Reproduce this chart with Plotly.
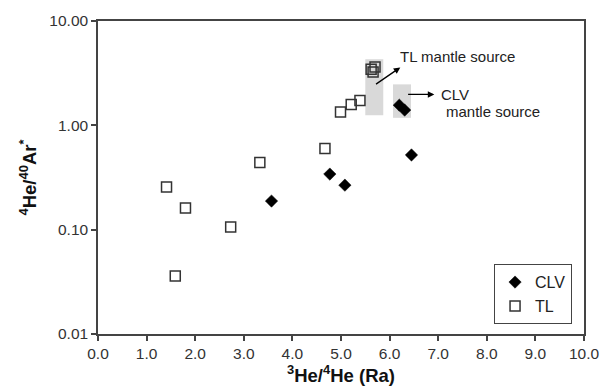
import plotly.graph_objects as go

# Data
clv_x = [3.57, 4.77, 5.08, 6.20, 6.31, 6.45]
clv_y = [0.188, 0.341, 0.267, 1.56, 1.40, 0.52]

tl_x = [1.41, 1.80, 2.73, 1.59, 3.33, 4.67, 4.99, 5.21, 5.39, 5.62, 5.70, 5.66]
tl_y = [0.256, 0.161, 0.106, 0.036, 0.44, 0.60, 1.34, 1.58, 1.73, 3.45, 3.62, 3.25]

x_ticks = [0, 1, 2, 3, 4, 5, 6, 7, 8, 9, 10]
x_ticktext = ["0.0", "1.0", "2.0", "3.0", "4.0", "5.0", "6.0", "7.0", "8.0", "9.0", "10.0"]
y_ticks = [0.01, 0.1, 1, 10]
y_ticktext = ["0.01", "0.10", "1.00", "10.00"]

# source regions (x0, x1, y0, y1)
tl_src = (5.50, 5.87, 1.25, 4.3)
clv_src = (6.07, 6.44, 1.18, 2.47)

FONT = "Arial, Liberation Sans, Helvetica, sans-serif"

fig = go.Figure()
fig.add_trace(go.Scatter(
    x=clv_x, y=clv_y, mode="markers", name="CLV",
    marker=dict(symbol="diamond", size=9.5, color="black", line=dict(width=0.5, color="black")),
))
fig.add_trace(go.Scatter(
    x=tl_x, y=tl_y, mode="markers", name="TL",
    marker=dict(symbol="square-open", size=10, color="#333333", line=dict(width=1.5)),
))

for (x0, x1, y0, y1) in [tl_src, clv_src]:
    fig.add_shape(type="rect", xref="x", yref="y", x0=x0, x1=x1, y0=y0, y1=y1,
                  fillcolor="#d9d9d9", line=dict(width=0), layer="below")

# arrows
fig.add_annotation(x=6.22, y=0.555, ax=5.69, ay=0.385, xref="x", yref="y", axref="x", ayref="y",
                   text="", showarrow=True, arrowhead=2, arrowsize=1, arrowwidth=1.3, arrowcolor="black")
fig.add_annotation(x=6.92, y=0.296, ax=6.35, ay=0.296, xref="x", yref="y", axref="x", ayref="y",
                   text="", showarrow=True, arrowhead=2, arrowsize=1, arrowwidth=1.3, arrowcolor="black")
# labels
fig.add_annotation(x=6.18, y=0.663, xref="x", yref="y", text="TL mantle source", showarrow=False,
                   xanchor="left", yanchor="middle", font=dict(family=FONT, size=15, color="#222"))
fig.add_annotation(x=7.01, y=0.296, xref="x", yref="y", text="CLV", showarrow=False,
                   xanchor="left", yanchor="middle", font=dict(family=FONT, size=15, color="#222"))
fig.add_annotation(x=7.11, y=0.129, xref="x", yref="y", text="mantle source", showarrow=False,
                   xanchor="left", yanchor="middle", font=dict(family=FONT, size=15, color="#222"))

axis_common = dict(showgrid=False, zeroline=False, showline=True, linecolor="#444", linewidth=1.5,
                   mirror=True, ticks="outside", ticklen=5, tickcolor="#444", tickwidth=1.5,
                   tickfont=dict(family=FONT, size=15.5, color="#333"))

fig.update_xaxes(range=[0, 10], tickvals=x_ticks, ticktext=x_ticktext,
                 title=dict(text="<b><sup>3</sup>He/<sup>4</sup>He (Ra)</b>", font=dict(family=FONT, size=18.5, color="#111"), standoff=4),
                 **axis_common)
fig.update_yaxes(type="log", range=[-2, 1], tickvals=y_ticks, ticktext=y_ticktext,
                 title=dict(text="<b><sup>4</sup>He/<sup>40</sup>Ar<sup>*</sup></b>", font=dict(family=FONT, size=18.5, color="#111"), standoff=8),
                 **axis_common)

fig.update_layout(
    width=611, height=392,
    margin=dict(l=98, r=25, t=21, b=58),
    plot_bgcolor="white", paper_bgcolor="white",
    font=dict(family=FONT, color="#222"),
    showlegend=True,
    legend=dict(x=0.975, y=0.032, xanchor="right", yanchor="bottom",
                bordercolor="#444", borderwidth=1.2, bgcolor="white",
                font=dict(family=FONT, size=16, color="#222"),
                traceorder="grouped", tracegroupgap=11),
)

fig.write_html("out.html")
